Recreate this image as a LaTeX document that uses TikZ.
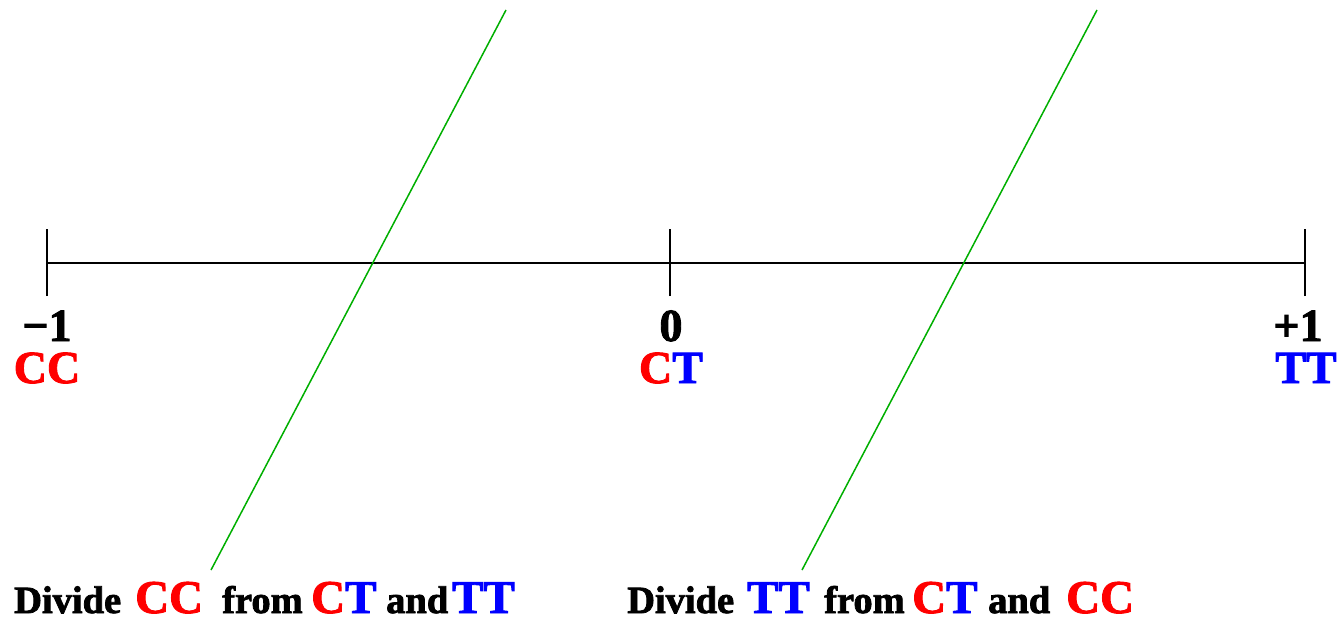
\documentclass[tikz,border=0pt]{standalone}
\usepackage{fontspec}
\newfontfamily\timesbold{Liberation Serif}[FakeBold=2]
\definecolor{lgreen}{RGB}{0,175,0}
\begin{document}
\begin{tikzpicture}[x=1pt,y=-1pt,
  axis/.style={line width=1.8pt,black},
  divider/.style={line width=1.5pt,lgreen},
  big/.style={inner sep=0pt,font=\timesbold\bfseries\fontsize{46}{50}\selectfont},
  small/.style={inner sep=0pt,anchor=base west,font=\timesbold\bfseries\fontsize{38.5}{42}\selectfont},
  bigw/.style={inner sep=0pt,anchor=base west,font=\timesbold\bfseries\fontsize{47}{50}\selectfont}]
\useasboundingbox (0,0) rectangle (1342,621);
% axis
\coordinate (L) at (47,263);
\coordinate (M) at (670,263);
\coordinate (R) at (1305,263);
\draw[axis] (L) -- (R);
\draw[axis] ([yshift=-33pt]L) -- ([yshift=34pt]L);
\draw[axis] ([yshift=-33pt]M) -- ([yshift=34pt]M);
\draw[axis] ([yshift=-33pt]R) -- ([yshift=34pt]R);
% green dividers
\coordinate (a1) at (506,10);
\coordinate (a2) at (211,570);
\coordinate (b1) at (1097,10);
\coordinate (b2) at (802,570);
\draw[divider] (a1) -- (a2);
\draw[divider] (b1) -- (b2);
% tick labels
\node[big,anchor=base] (nm1) at (47,341) {\textminus1};
\node[big,anchor=base] (n0) at (671,341) {0};
\node[big,anchor=base] (np1) at (1298,341) {+1};
\node[big,anchor=base] (lcc) at (47,383) {\textcolor{red}{CC}};
\node[big,anchor=base] (lct) at (671,383) {\textcolor{red}{C}\textcolor{blue}{T}};
\node[big,anchor=base] (ltt) at (1306,383) {\textcolor{blue}{TT}};
% bottom captions
\node[small] (d1) at (14,613) {Divide};
\node[bigw,text=red] (d1cc) at (135,613) {CC};
\node[small] (d1from) at (222,613) {from};
\node[bigw] (d1ct) at (311,613) {\textcolor{red}{C}\textcolor{blue}{T}};
\node[small] (d1and) at (386,613) {and};
\node[bigw,text=blue] (d1tt) at (452,613) {TT};
\node[small] (d2) at (627,613) {Divide};
\node[bigw,text=blue] (d2tt) at (747,613) {TT};
\node[small] (d2from) at (824,613) {from};
\node[bigw] (d2ct) at (912,613) {\textcolor{red}{C}\textcolor{blue}{T}};
\node[small] (d2and) at (988,613) {and};
\node[bigw,text=red] (d2cc) at (1066,613) {CC};
\end{tikzpicture}
\end{document}
